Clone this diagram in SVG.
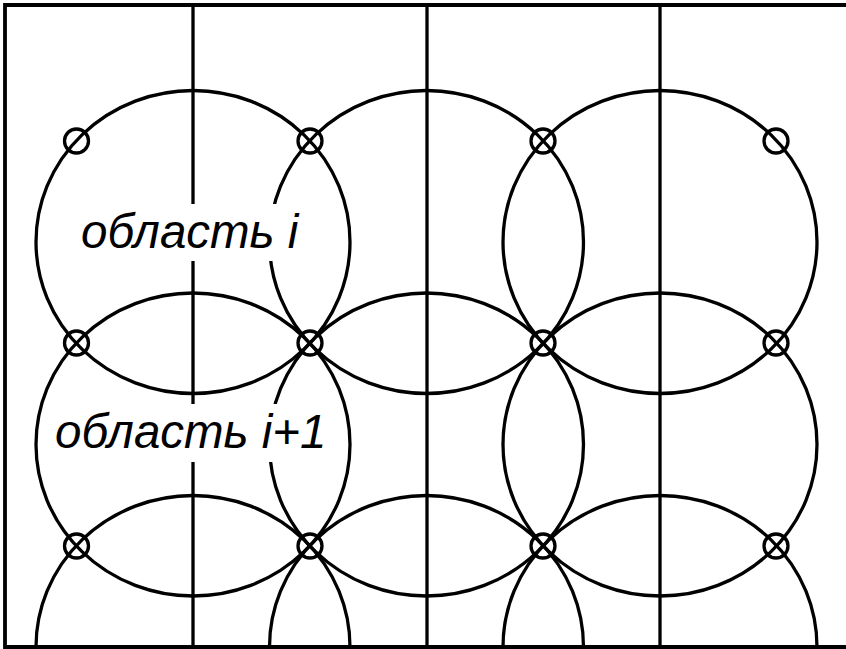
<svg xmlns="http://www.w3.org/2000/svg" width="846" height="649" viewBox="0 0 846 649">
<style>
  .ln{fill:none;stroke:#000;stroke-width:3.3}
  .fr{fill:none;stroke:#000;stroke-width:3.8}
  .mk{fill:none;stroke:#000;stroke-width:3.3}
  .lbl{font-family:"Liberation Sans",Arial,sans-serif;font-style:italic;font-size:47.5px;fill:#000}
  .bg{fill:#fff;stroke:none}
</style>
<defs>
  <clipPath id="cp"><rect x="5" y="5" width="841" height="642"/></clipPath>
</defs>
<rect x="0" y="0" width="846" height="649" fill="#fff"/>
<g id="connectors" clip-path="url(#cp)">
  <g id="grid-lines">
    <line class="ln" x1="193" y1="5" x2="193" y2="647"/>
    <line class="ln" x1="427" y1="5" x2="427" y2="647"/>
    <line class="ln" x1="660" y1="5" x2="660" y2="647"/>
  </g>
  <g id="circles">
    <ellipse class="ln" cx="193" cy="242" rx="157" ry="151.5"/>
    <ellipse class="ln" cx="426.5" cy="242" rx="157" ry="151.5"/>
    <ellipse class="ln" cx="660" cy="242" rx="157" ry="151.5"/>
    <ellipse class="ln" cx="193" cy="444.5" rx="157" ry="151.5"/>
    <ellipse class="ln" cx="426.5" cy="444.5" rx="157" ry="151.5"/>
    <ellipse class="ln" cx="660" cy="444.5" rx="157" ry="151.5"/>
    <ellipse class="ln" cx="193" cy="647" rx="157" ry="151.5"/>
    <ellipse class="ln" cx="426.5" cy="647" rx="157" ry="151.5"/>
    <ellipse class="ln" cx="660" cy="647" rx="157" ry="151.5"/>
  </g>
</g>
<g id="frame">
  <polyline class="fr" points="846,5 5,5 5,647 846,647"/>
</g>
<g id="nodes">
  <g id="n11"><circle class="mk" cx="76.5" cy="141" r="12"/></g>
  <g id="n12"><circle class="mk" cx="310" cy="141" r="12"/></g>
  <g id="n13"><circle class="mk" cx="543" cy="141" r="12"/></g>
  <g id="n14"><circle class="mk" cx="776" cy="141" r="12"/></g>
  <g id="n21"><circle class="mk" cx="76.5" cy="343" r="12"/></g>
  <g id="n22"><circle class="mk" cx="310" cy="343" r="12"/></g>
  <g id="n23"><circle class="mk" cx="543" cy="343" r="12"/></g>
  <g id="n24"><circle class="mk" cx="776" cy="343" r="12"/></g>
  <g id="n31"><circle class="mk" cx="76.5" cy="546" r="12"/></g>
  <g id="n32"><circle class="mk" cx="310" cy="546" r="12"/></g>
  <g id="n33"><circle class="mk" cx="543" cy="546" r="12"/></g>
  <g id="n34"><circle class="mk" cx="776" cy="546" r="12"/></g>
</g>
<g id="label-i">
  <rect class="bg" x="80" y="204" width="222" height="57"/>
  <text class="lbl" x="81" y="248">область i</text>
</g>
<g id="label-i1">
  <rect class="bg" x="54" y="404" width="280" height="58"/>
  <text class="lbl" x="55" y="448">область i+1</text>
</g>
</svg>
